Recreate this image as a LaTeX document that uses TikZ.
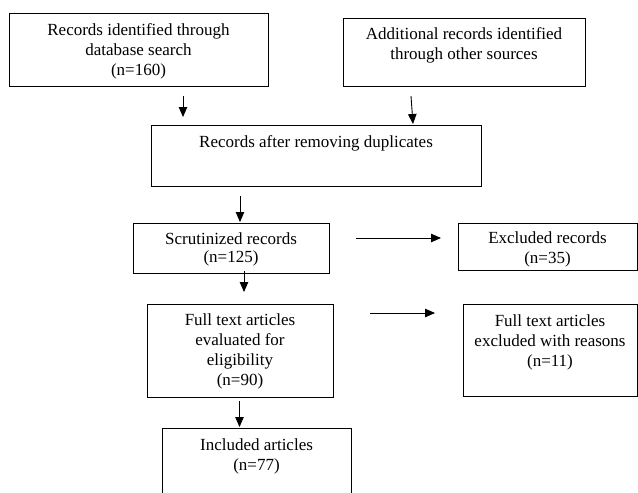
\documentclass[tikz,border=0pt]{standalone}
\usepackage{fontspec}
\setmainfont{Liberation Serif}
\usetikzlibrary{arrows.meta}
\begin{document}
\begin{tikzpicture}[x=1pt,y=-1pt,
  box/.style={draw=black, line width=0.9pt, inner sep=0pt},
  txt/.style={align=center, inner sep=0pt, font=\fontsize{17}{20}\selectfont},
  arr/.style={line width=0.9pt, -{Triangle[length=10pt,width=8.5pt]}}]
\useasboundingbox[fill=white] (0,0) rectangle (638,493);
% boxes
\node[box, minimum width=259pt, minimum height=73pt] (b1) at (138.5,49.5) {};
\node[box, minimum width=242pt, minimum height=68pt] (b2) at (464,52) {};
\node[box, minimum width=330pt, minimum height=61pt] (b3) at (316,156) {};
\node[box, minimum width=196pt, minimum height=50pt] (b4) at (231,248) {};
\node[box, minimum width=179pt, minimum height=47pt] (b5) at (547.5,246.5) {};
\node[box, minimum width=186pt, minimum height=93pt] (b6) at (240,350.5) {};
\node[box, minimum width=174pt, minimum height=92pt] (b7) at (550,350) {};
\node[box, minimum width=189pt, minimum height=80pt] (b8) at (256.5,468) {};
% texts
\node[txt] (t1) at (138.5,51) {Records identified through\\database search\\(n=160)};
\node[txt] (t2) at (464,45.5) {Additional records identified\\through other sources};
\node[txt] (t3) at (316,143.5) {Records after removing duplicates};
\node[txt, font=\fontsize{17}{18}\selectfont] (t4) at (231,249) {Scrutinized records\\(n=125)};
\node[txt] (t5) at (547.5,249.5) {Excluded records\\(n=35)};
\node[txt] (t6) at (240,351.5) {Full text articles\\evaluated for\\eligibility\\(n=90)};
\node[txt] (t7) at (550,342) {Full text articles\\excluded with reasons\\(n=11)};
\node[txt] (t8) at (256.5,456.5) {Included articles\\(n=77)};
% arrow end points
\coordinate (a1s) at (183,96);  \coordinate (a1e) at (183,117);
\coordinate (a2s) at (411,96);  \coordinate (a2e) at (413,124);
\coordinate (a3s) at (240,196); \coordinate (a3e) at (240,222);
\coordinate (a4s) at (356,238); \coordinate (a4e) at (441,238);
\coordinate (a5s) at (244,271); \coordinate (a5e) at (244,292);
\coordinate (a6s) at (370,313); \coordinate (a6e) at (435,313);
\coordinate (a7s) at (239.5,401); \coordinate (a7e) at (239.5,427);
\draw[arr] (a1s) -- (a1e);
\draw[arr] (a2s) -- (a2e);
\draw[arr] (a3s) -- (a3e);
\draw[arr] (a4s) -- (a4e);
\draw[arr] (a5s) -- (a5e);
\draw[arr] (a6s) -- (a6e);
\draw[arr] (a7s) -- (a7e);
\end{tikzpicture}
\end{document}
